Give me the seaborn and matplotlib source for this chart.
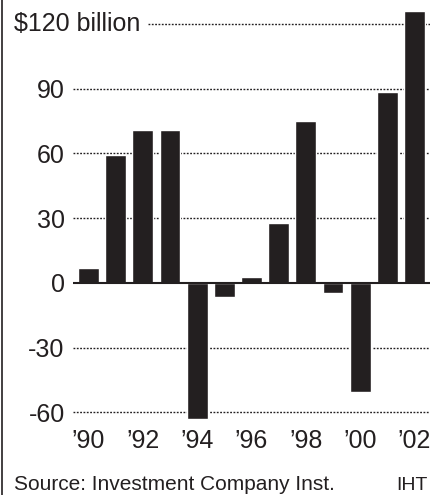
import matplotlib
matplotlib.use("Agg")
import matplotlib.pyplot as plt
import matplotlib.lines as mlines
import seaborn as sns
import pandas as pd

# Net new cash flow into bond funds, billions of dollars
years = ["1990", "1991", "1992", "1993", "1994", "1995", "1996",
         "1997", "1998", "1999", "2000", "2001", "2002"]
flows = [7, 59, 71, 71, -63, -6.5, 2.5, 27.5, 75, -4.5, -50.5, 88.5, 126]

x_tick_labels = ["\u201990", "\u201992", "\u201994", "\u201996",
                 "\u201998", "\u201900", "\u201902"]
y_ticks = [-60, -30, 0, 30, 60, 90, 120]
y_tick_labels = ["-60", "-30", "0", "30", "60", "90", ""]
top_label = "$120 billion"
source = "Source: Investment Company Inst."
credit = "IHT"

ink = "#231f20"

sns.set_style("white")
plt.rcParams["font.family"] = ["Liberation Sans", "DejaVu Sans"]

df = pd.DataFrame({"year": years, "flow": flows})

fig = plt.figure(figsize=(4.3, 4.95), dpi=100)
ax = fig.add_axes([73 / 430, 74 / 495, 357 / 430, 414.5 / 495])

sns.barplot(data=df, x="year", y="flow", color=ink, saturation=1,
            width=0.77, errorbar=None, ax=ax, zorder=3)

ax.set_xlim(-0.57, 12.57)
ax.set_ylim(-64, 128)

# dotted reference lines; the top one starts after its label
dots = dict(color=ink, lw=1.0, linestyle=(0, (1.3, 1.1)), zorder=1)
for v in y_ticks:
    if v == 0:
        continue
    start = 0.21 if v == 120 else 0.0
    ax.axhline(v, xmin=start, xmax=1, **dots)
ax.axhline(0, color=ink, lw=1.5, zorder=4)

ax.set_yticks(y_ticks)
ax.set_yticklabels(y_tick_labels, fontsize=18, color=ink)
ax.set_xticks(range(0, len(years), 2))
ax.set_xticklabels(x_tick_labels, fontsize=18, color=ink)
ax.tick_params(axis="both", length=0)
ax.tick_params(axis="y", pad=6)
ax.tick_params(axis="x", pad=6)
ax.set_xlabel("")
ax.set_ylabel("")
sns.despine(ax=ax, left=True, bottom=True)

ax.text(-0.165, 120, top_label, transform=ax.get_yaxis_transform(),
        ha="left", va="center", fontsize=18, color=ink)

fig.text(14 / 430, 5 / 495, source, ha="left", va="baseline",
         fontsize=15, color=ink)
fig.text(428 / 430, 5 / 495, credit, ha="right", va="baseline",
         fontsize=14, color=ink)

# rule along the left edge of the graphic
fig.add_artist(mlines.Line2D([1.5 / 430, 1.5 / 430], [0, 1], color=ink,
                             lw=1.2, transform=fig.transFigure))

fig.savefig("out.png", dpi=100, facecolor="white")
